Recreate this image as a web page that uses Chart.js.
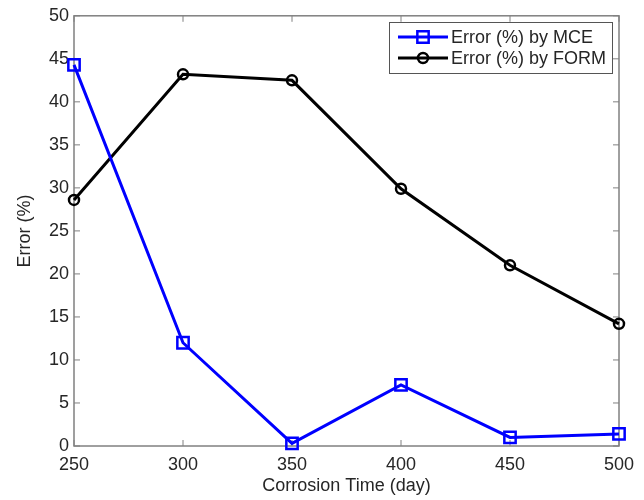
<!DOCTYPE html>
<html>
<head>
<meta charset="utf-8">
<script src="https://cdn.jsdelivr.net/npm/chart.js@4/dist/chart.umd.min.js"></script>
<style>
  html, body { margin: 0; padding: 0; background: #fff; }
  #wrap { width: 644px; height: 500px; }
</style>
</head>
<body>
<div id="wrap"><canvas id="chart" width="644" height="500"></canvas></div>
<script>
"use strict";

// values
const days = [250, 300, 350, 400, 450, 500];
const errMCE = [44.3, 12.0, 0.3, 7.1, 1.0, 1.4];
const errFORM = [28.6, 43.2, 42.5, 29.9, 21.0, 14.2];
const seriesLabels = ["Error (%) by MCE", "Error (%) by FORM"];

const FONT = "'Liberation Sans', Arial, sans-serif";
const TEXT = "#262626";
const AXIS = "#808080";

const toPoints = (ys) => days.map((d, i) => ({ x: d, y: ys[i] }));

// MATLAB style box with inward ticks on all four sides
const boxPlugin = {
  id: "box",
  beforeDatasetsDraw(chart) {
    const { ctx, chartArea: a, scales } = chart;
    ctx.save();
    ctx.strokeStyle = AXIS;
    ctx.lineWidth = 1.5;
    ctx.strokeRect(a.left, a.top, a.right - a.left, a.bottom - a.top);
    ctx.lineWidth = 1;
    const len = 6;
    ctx.beginPath();
    scales.x.ticks.forEach((t) => {
      const px = scales.x.getPixelForValue(t.value);
      ctx.moveTo(px, a.bottom);
      ctx.lineTo(px, a.bottom - len);
      ctx.moveTo(px, a.top);
      ctx.lineTo(px, a.top + len);
    });
    scales.y.ticks.forEach((t) => {
      const py = scales.y.getPixelForValue(t.value);
      ctx.moveTo(a.left, py);
      ctx.lineTo(a.left + len, py);
      ctx.moveTo(a.right, py);
      ctx.lineTo(a.right - len, py);
    });
    ctx.stroke();
    ctx.restore();
  },
  afterDraw(chart) {
    // legend box in the upper right corner
    const { ctx } = chart;
    const bx = 389, by = 22, bw = 223, bh = 51;
    ctx.save();
    ctx.fillStyle = "#fff";
    ctx.fillRect(bx, by, bw, bh);
    ctx.strokeStyle = "#555";
    ctx.lineWidth = 1;
    ctx.strokeRect(bx + 0.5, by + 0.5, bw, bh);
    chart.data.datasets.forEach((ds, i) => {
      const cy = by + 15 + i * 21;
      ctx.strokeStyle = ds.borderColor;
      ctx.lineWidth = ds.borderWidth;
      ctx.beginPath();
      ctx.moveTo(bx + 9, cy);
      ctx.lineTo(bx + 59, cy);
      ctx.stroke();
      ctx.fillStyle = "rgba(0,0,0,0)";
      ctx.lineWidth = ds.pointBorderWidth;
      Chart.helpers.drawPoint(ctx, {
        pointStyle: ds.pointStyle,
        radius: ds.pointRadius,
        borderWidth: ds.pointBorderWidth,
      }, bx + 34, cy);
      ctx.fillStyle = TEXT;
      ctx.font = "18px " + FONT;
      ctx.textBaseline = "middle";
      ctx.textAlign = "left";
      ctx.fillText(ds.label, bx + 62, cy + 1);
    });
    ctx.restore();
  },
};

new Chart(document.getElementById("chart"), {
  type: "line",
  data: {
    datasets: [
      {
        label: seriesLabels[0],
        data: toPoints(errMCE),
        borderColor: "#0000ff",
        borderWidth: 3,
        pointStyle: "rect",
        pointRadius: 8,
        pointBorderWidth: 2.5,
        pointBorderColor: "#0000ff",
        pointBackgroundColor: "rgba(0,0,0,0)",
        clip: false,
      },
      {
        label: seriesLabels[1],
        data: toPoints(errFORM),
        borderColor: "#000000",
        borderWidth: 3,
        pointStyle: "circle",
        pointRadius: 5,
        pointBorderWidth: 2.5,
        pointBorderColor: "#000000",
        pointBackgroundColor: "rgba(0,0,0,0)",
        clip: false,
      },
    ],
  },
  options: {
    responsive: false,
    animation: false,
    layout: { padding: { top: 14, right: 25, left: 0, bottom: 0 } },
    plugins: {
      legend: { display: false },
      tooltip: { enabled: false },
    },
    scales: {
      x: {
        type: "linear",
        min: 250,
        max: 500,
        grid: { display: false, drawTicks: false },
        border: { display: false },
        ticks: {
          stepSize: 50,
          padding: 8,
          color: TEXT,
          font: { family: FONT, size: 18 },
          maxRotation: 0,
        },
        title: {
          display: true,
          text: "Corrosion Time (day)",
          color: TEXT,
          font: { family: FONT, size: 18 },
          padding: { top: 0, bottom: 3 },
        },
        afterFit(scale) { scale.height = 54; },
      },
      y: {
        min: 0,
        max: 50,
        grid: { display: false, drawTicks: false },
        border: { display: false },
        ticks: {
          stepSize: 5,
          padding: 5,
          color: TEXT,
          font: { family: FONT, size: 18 },
        },
        title: {
          display: true,
          text: "Error (%)",
          color: TEXT,
          font: { family: FONT, size: 18 },
          padding: { top: 14, bottom: 0 },
        },
        afterFit(scale) { scale.width = 74; },
      },
    },
  },
  plugins: [boxPlugin],
});
</script>
</body>
</html>
